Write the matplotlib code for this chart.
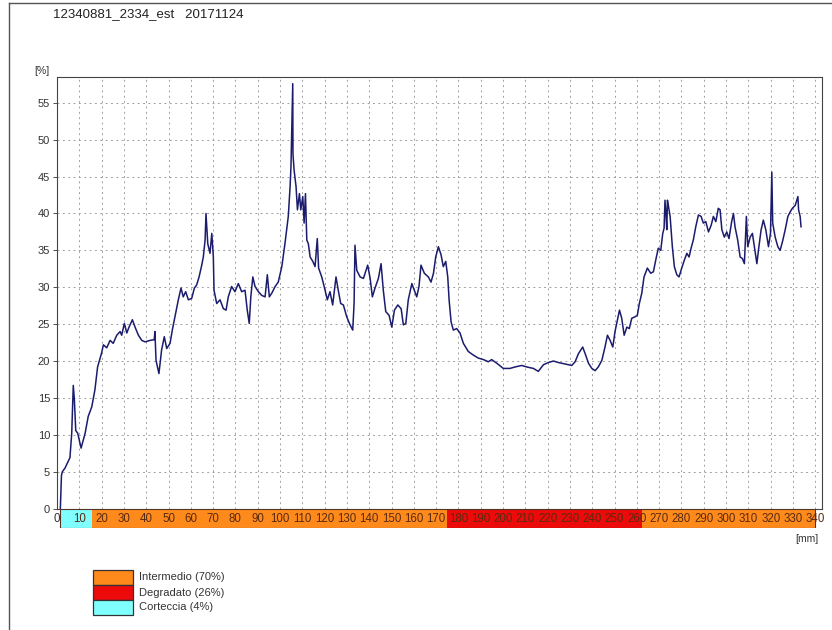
import matplotlib
matplotlib.use("Agg")
import matplotlib.pyplot as plt
from matplotlib.patches import Rectangle
from matplotlib.lines import Line2D

plt.rcParams["font.family"] = ["Liberation Sans", "DejaVu Sans"]

# measured profile (depth in mm, resistance in %)
depth = [
    1.5, 2.0, 2.4, 3.6, 5.8, 6.6, 7.3, 7.8, 8.4, 9.3, 10.8, 12.6, 14.0, 15.6,
    17.0, 18.2, 20.0, 20.8, 22.3, 23.8, 25.2, 26.8, 28.3, 29.0, 30.2, 31.3,
    32.3, 33.8, 35.0, 36.5, 38.0, 39.5, 41.7, 43.6, 43.9, 44.4, 45.7, 46.9,
    48.1, 49.2, 50.7, 51.7, 53.2, 54.4, 55.6, 56.6, 57.7, 58.9, 60.4, 61.6,
    62.6, 63.7, 64.9, 65.6, 66.4, 66.8, 67.6, 68.6, 69.4, 70.1, 70.4, 71.6,
    73.1, 74.6, 75.8, 76.8, 78.3, 79.8, 81.3, 82.8, 84.3, 85.3, 86.2, 86.9,
    87.8, 88.8, 90.3, 91.8, 93.3, 94.3, 95.2, 96.3, 97.8, 99.2, 100.8, 102.2,
    103.7, 104.5, 104.9, 105.4, 105.7, 105.8, 106.3, 107.2, 107.8, 108.7,
    109.3, 110.2, 110.8, 111.4, 112.0, 112.7, 113.5, 114.7, 115.7, 116.7,
    117.3, 118.7, 120.2, 121.2, 122.4, 123.6, 125.1, 126.1, 127.2, 128.4,
    129.9, 131.4, 132.6, 133.2, 133.6, 134.4, 135.9, 137.4, 139.3, 140.4,
    141.4, 142.6, 144.1, 145.3, 146.3, 147.4, 148.9, 150.1, 151.3, 152.8,
    154.3, 155.3, 156.4, 157.5, 159.1, 160.2, 161.3, 162.3, 163.2, 164.7,
    166.5, 167.7, 168.8, 169.8, 171.0, 172.2, 173.2, 174.3, 175.2, 175.8,
    176.7, 177.7, 179.2, 180.7, 182.2, 184.4, 186.7, 188.9, 191.2, 193.4,
    194.9, 197.2, 200.1, 203.1, 205.4, 208.4, 210.6, 213.6, 215.8, 218.1,
    220.3, 222.6, 224.8, 227.8, 230.8, 232.3, 233.8, 235.7, 236.8, 238.3,
    239.8, 241.3, 242.7, 244.3, 245.7, 246.8, 248.0, 249.2, 250.2, 251.3,
    252.2, 253.2, 254.3, 255.5, 256.6, 257.7, 259.2, 260.2, 261.1, 262.2,
    263.2, 264.7, 266.2, 267.4, 268.6, 269.6, 270.7, 271.6, 272.2, 272.6,
    273.1, 273.4, 273.7, 274.1, 274.9, 275.9, 276.8, 277.9, 278.9, 280.1,
    281.3, 282.4, 283.4, 284.3, 285.3, 286.4, 287.6, 288.8, 289.8, 290.9,
    292.1, 293.3, 294.3, 295.4, 296.5, 297.3, 298.1, 299.2, 300.3, 301.3,
    302.5, 303.3, 304.0, 305.2, 306.3, 307.3, 308.2, 309.1, 309.7, 310.8,
    311.8, 312.7, 313.8, 314.5, 315.7, 316.7, 317.8, 319.0, 319.9, 320.5,
    320.9, 322.0, 323.2, 324.2, 325.3, 326.5, 327.7, 328.7, 329.7, 331.0,
    332.2, 332.5, 333.2, 333.6,
]
resist = [
    0.0, 4.5, 5.0, 5.5, 6.9, 10.2, 16.7, 14.7, 10.6, 10.2, 8.2, 10.2, 12.5, 13.8,
    16.1, 19.2, 21.1, 22.2, 21.8, 22.8, 22.4, 23.5, 24.0, 23.5, 25.1, 23.8,
    24.6, 25.6, 24.6, 23.5, 22.8, 22.6, 22.8, 22.9, 24.0, 20.1, 18.3, 21.5,
    23.3, 21.7, 22.4, 24.2, 26.5, 28.3, 29.9, 28.7, 29.4, 28.3, 28.5, 29.9,
    30.3, 31.4, 33.0, 34.1, 36.4, 40.0, 35.9, 34.6, 37.3, 34.1, 29.6, 27.8,
    28.3, 27.1, 26.9, 28.7, 30.1, 29.4, 30.5, 29.4, 29.6, 26.9, 25.1, 28.7,
    31.4, 30.1, 29.4, 28.9, 28.7, 31.7, 28.7, 29.2, 30.1, 30.7, 32.8, 35.9,
    39.6, 43.6, 46.3, 53.6, 57.6, 48.1, 45.9, 43.6, 40.5, 42.7,
    40.5, 42.3, 38.7, 42.7, 36.4, 35.9, 34.1, 33.5, 32.8, 36.6,
    32.6, 31.4, 29.6, 28.3, 29.4, 27.6, 31.4, 29.6, 27.8, 27.6,
    26.0, 24.9, 24.2, 27.8, 35.7, 32.3, 31.4, 31.2, 33.0, 31.2,
    28.7, 29.9, 31.2, 33.2, 29.6, 26.7, 26.2, 24.6, 26.9, 27.6,
    27.1, 24.9, 25.1, 28.3, 30.5, 29.6, 28.7, 30.1, 33.0, 31.9,
    31.4, 30.7, 31.9, 34.1, 35.5, 34.4, 32.8, 33.5, 31.4, 28.3,
    25.3, 24.2, 24.4, 23.8, 22.4, 21.3, 20.8, 20.4, 20.2, 19.9,
    20.2, 19.7, 19.0, 19.0, 19.2, 19.4, 19.2, 19.0, 18.6, 19.5,
    19.8, 20.0, 19.8, 19.6, 19.4, 19.9, 21.0, 21.9, 21.0, 19.7,
    19.0, 18.7, 19.2, 20.1, 21.9, 23.5, 22.8, 21.9, 24.0, 25.6,
    26.9, 25.8, 23.5, 24.6, 24.4, 25.8, 26.0, 26.2, 27.8, 29.2,
    31.4, 32.6, 31.9, 32.1, 33.9, 35.3, 35.0, 37.3, 38.0, 41.8,
    39.6, 37.8, 41.8, 41.1, 39.6, 35.5, 32.8, 31.7, 31.4, 32.6,
    33.7, 34.6, 34.1, 35.3, 36.4, 38.2, 39.8, 39.6, 38.7, 38.9,
    37.5, 38.4, 39.6, 38.9, 40.7, 40.5, 37.8, 36.8, 37.5, 36.6,
    38.9, 40.0, 38.2, 36.4, 34.1, 33.9, 33.2, 39.6, 35.5, 36.8,
    37.3, 35.5, 33.2, 35.0, 37.8, 39.1, 37.8, 35.5, 37.3, 45.6,
    38.7, 36.8, 35.5, 35.0, 36.2, 37.8, 39.6, 40.2, 40.7, 41.1,
    42.3, 40.5, 39.6, 38.2,
]

# wood zones along the core
zone_start = [1.5, 15.5, 174.7, 262.2]
zone_end = [15.5, 174.7, 262.2, 340.0]
zone_kind = ["Corteccia", "Intermedio", "Degradato", "Intermedio"]

legend_names = ["Intermedio (70%)", "Degradato (26%)", "Corteccia (4%)"]
legend_kind = ["Intermedio", "Degradato", "Corteccia"]
zone_colors = {"Intermedio": "#ff8a1c", "Degradato": "#ec0a0a", "Corteccia": "#80ffff"}

x_ticks = list(range(0, 341, 10))
y_ticks = list(range(0, 56, 5))

W, H = 832, 630
fig = plt.figure(figsize=(W / 100, H / 100), dpi=100)


def fx(px):
    return px / W


def fy(py):
    return 1 - py / H


# main plot
ax = fig.add_axes([fx(57), fy(508.6), fx(822 - 57), (508.6 - 77) / H])
ax.plot(depth, resist, color="#1c1c6e", lw=1.1)
ax.set_xlim(0, 343)
ax.set_ylim(0, 58.5)
ax.set_xticks(x_ticks)
ax.set_yticks(y_ticks)
ax.tick_params(axis="x", length=0, labelbottom=False)
ax.tick_params(axis="y", length=3, width=0.6, labelsize=8, pad=2, colors="#333333")
ax.grid(True, color="#a0a0a0", linestyle=(0, (2, 3.5)), linewidth=0.7)
for s in ax.spines.values():
    s.set_color("#444444")
    s.set_linewidth(0.8)

# zone band under the x axis
band = fig.add_axes([fx(57), fy(528), fx(822 - 57), (528 - 509) / H], sharex=ax)
for a, b, k in zip(zone_start, zone_end, zone_kind):
    band.axvspan(a, b, color=zone_colors[k], lw=0)
band.axvspan(zone_start[0], zone_end[-1], fill=False, edgecolor="#553322", lw=0.8)
band.set_ylim(0, 1)
band.axis("off")
for t in x_ticks:
    band.text(t, 0.45, str(t), ha="center", va="center", fontsize=8.3,
              color="#5a2a10" if t > 0 else "#333333")

# texts
fig.text(fx(53), fy(14), "12340881_2334_est   20171124", fontsize=9.5, va="center",
         color="#222222")
fig.text(fx(34), fy(71), "[%]", fontsize=7.5, va="center", color="#333333")
fig.text(fx(795), fy(539), "[mm]", fontsize=7.5, va="center", color="#333333")

# outer frame (left and top edges)
fig.add_artist(Line2D([fx(9), fx(9)], [fy(3), 0], color="#555555", lw=1))
fig.add_artist(Line2D([fx(9), 1], [fy(3), fy(3)], color="#555555", lw=1))

# legend: swatches stacked, labels to the right
lax = fig.add_axes([fx(93), fy(615), fx(40), 45 / H])
lax.set_xlim(0, 1)
lax.set_ylim(0, len(legend_kind))
lax.axis("off")
for i, (k, name) in enumerate(zip(legend_kind, legend_names)):
    row = len(legend_kind) - 1 - i
    lax.add_patch(Rectangle((0, row), 1, 1, facecolor=zone_colors[k],
                            edgecolor="#333333", lw=0.9, clip_on=False))
    lax.text(1.15, row + 0.5, name, va="center", fontsize=8, color="#333333",
             clip_on=False)

fig.savefig("out.png", dpi=100)
